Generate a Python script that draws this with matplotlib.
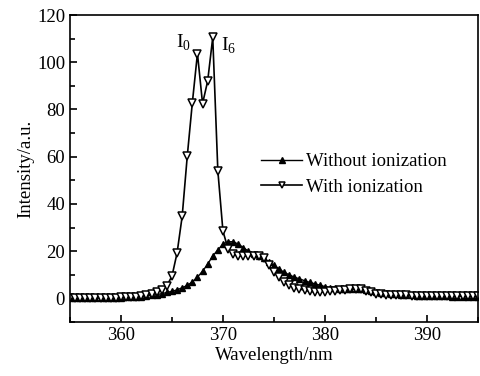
import numpy as np
import matplotlib.pyplot as plt
from matplotlib.ticker import MultipleLocator

plt.rcParams['font.family'] = ['Liberation Serif', 'DejaVu Serif']
plt.rcParams['mathtext.fontset'] = 'custom'
plt.rcParams['mathtext.rm'] = 'Liberation Serif'

# wavelength grid, 0.5 nm steps
wl = np.arange(355.0, 395.01, 0.5)

# Without ionization (filled up-triangles)
without_ion = [
    0.3, 0.3, 0.3, 0.3, 0.3, 0.3, 0.3, 0.3, 0.3, 0.3,   # 355 - 359.5
    0.3, 0.4, 0.4, 0.5, 0.8, 1.0, 1.3, 1.6, 2.0, 2.5,   # 360 - 364.5
    3.0, 3.6, 4.5, 5.5, 7.0, 9.0, 11.5, 14.5, 18.0, 20.5,  # 365 - 369.5
    23.0, 24.0, 24.0, 23.0, 21.5, 20.0, 19.0, 18.0, 17.0, 15.5,  # 370 - 374.5
    14.0, 12.5, 11.0, 10.0, 9.0, 8.3, 7.5, 6.8, 6.2, 5.6,  # 375 - 379.5
    5.0, 4.6, 4.2, 4.0, 4.0, 4.0, 4.0, 3.8, 3.4, 3.0,   # 380 - 384.5
    2.8, 2.4, 2.1, 1.9, 1.7, 1.5, 1.4, 1.3, 1.2, 1.1,   # 385 - 389.5
    1.0, 1.0, 0.9, 0.9, 0.9, 0.8, 0.8, 0.8, 0.8, 0.8,   # 390 - 394.5
    0.8,                                                # 395
]

# With ionization (open down-triangles)
with_ion = [
    0.2, 0.2, 0.2, 0.2, 0.2, 0.2, 0.2, 0.2, 0.2, 0.2,   # 355 - 359.5
    0.4, 0.5, 0.6, 0.8, 1.0, 1.3, 1.8, 2.5, 3.4, 5.4,   # 360 - 364.5
    9.4, 19.2, 34.7, 60.2, 82.9, 103.7, 82.5, 92.0, 110.5, 54.0,  # 365 - 369.5
    28.5, 21.0, 19.0, 18.0, 18.0, 18.0, 18.0, 18.0, 17.0, 14.0,  # 370 - 374.5
    11.0, 9.0, 7.0, 5.5, 4.5, 4.0, 3.5, 3.0, 2.7, 2.7,  # 375 - 379.5
    2.8, 3.0, 3.2, 3.4, 3.6, 3.8, 4.0, 3.8, 3.0, 2.5,   # 380 - 384.5
    2.0, 1.8, 1.6, 1.5, 1.4, 1.3, 1.3, 1.2, 1.2, 1.1,   # 385 - 389.5
    1.1, 1.0, 1.0, 1.0, 1.0, 1.0, 1.0, 1.0, 1.0, 1.0,   # 390 - 394.5
    1.0,                                                # 395
]

fig = plt.figure(figsize=(4.81, 3.76), dpi=100)
ax = fig.add_axes([0.1455, 0.1436, 0.848, 0.8164])

ax.plot(wl, without_ion, color='black', lw=1.0, marker='^', ms=5,
        mfc='black', mec='black', label='Without ionization')
ax.plot(wl, with_ion, color='black', lw=1.2, marker='v', ms=5.5,
        mfc='white', mec='black', mew=1.1, label='With ionization')

ax.text(365.4, 106, r'I$_0$', fontsize=14)
ax.text(369.8, 105, r'I$_6$', fontsize=14)

ax.set_xlim(355, 395)
ax.set_ylim(-10, 120)
ax.xaxis.set_major_locator(MultipleLocator(10))
ax.xaxis.set_minor_locator(MultipleLocator(5))
ax.yaxis.set_major_locator(MultipleLocator(20))
ax.yaxis.set_minor_locator(MultipleLocator(10))
ax.tick_params(which='both', direction='in', labelsize=13.5, width=1.2)
ax.tick_params(which='major', length=5)
ax.tick_params(which='minor', length=3.5)
for s in ax.spines.values():
    s.set_linewidth(1.2)

ax.set_xlabel('Wavelength/nm', fontsize=13.5, labelpad=2)
ax.set_ylabel('Intensity/a.u.', fontsize=13.5, labelpad=2)

ax.legend(loc='upper left', bbox_to_anchor=(0.45, 0.575), frameon=False,
          fontsize=13.5, handlelength=2.2, handletextpad=0.2,
          markerscale=0.8, labelspacing=0.45, borderaxespad=0)

fig.savefig('out.png', dpi=100)
